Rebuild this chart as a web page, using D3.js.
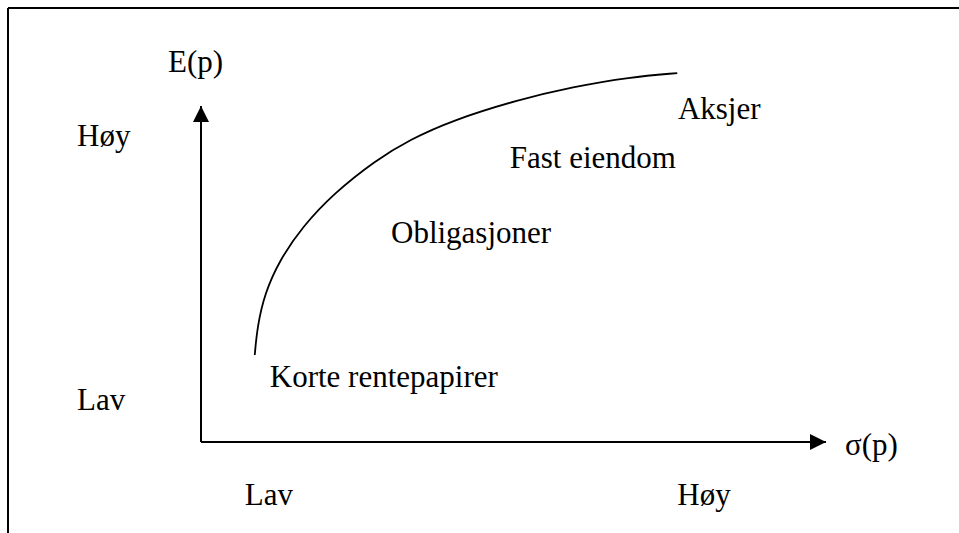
<!DOCTYPE html>
<html>
<head>
<meta charset="utf-8">
<script src="https://cdn.jsdelivr.net/npm/d3@7"></script>
<style>
  body { margin: 0; background: #fff; }
  text { font-family: "Liberation Serif", "DejaVu Serif", serif; font-size: 31px; fill: #000; }
</style>
</head>
<body>
<script>
// efficient frontier curve (sigma, expected return), axis units 0-100
var curveSigma = [8.6, 9.0, 10.2, 12.6, 16.2, 21.3, 28.0, 33.3, 40.3, 50.6, 59.5, 68.6, 76.2];
var curveReturn = [25.9, 34.2, 44.3, 54.2, 64.0, 74.1, 83.9, 89.9, 95.8, 101.8, 105.7, 108.6, 109.8];

// asset classes and where their labels sit
var assets = ['Korte rentepapirer', 'Obligasjoner', 'Fast eiendom', 'Aksjer'];
var assetSigma = [11.0, 30.4, 49.4, 76.3];
var assetReturn = [16.4, 59.2, 81.5, 96.1];

// tick labels
var yTicks = ['Lav', 'Høy'];
var yTickValues = [9.5, 88.1];
var xTicks = ['Lav', 'Høy'];
var xTickValues = [7.0, 76.2];

var w = 959;
var h = 533;

var svg = d3.select('body')
  .append('svg')
  .attr('width', w)
  .attr('height', h);

var xScale = d3.scaleLinear().domain([0, 100]).range([201, 826]);
var yScale = d3.scaleLinear().domain([0, 100]).range([442, 106]);

// frame (top and left edge only)
svg.append('line')
  .attr('x1', 8).attr('y1', 8).attr('x2', w).attr('y2', 8)
  .attr('stroke', '#000').attr('stroke-width', 2);
svg.append('line')
  .attr('x1', 8).attr('y1', 8).attr('x2', 8).attr('y2', h)
  .attr('stroke', '#000').attr('stroke-width', 2);

// arrow head
svg.append('defs').append('marker')
  .attr('id', 'arrow')
  .attr('viewBox', '0 0 16 16')
  .attr('refX', 16)
  .attr('refY', 8)
  .attr('markerWidth', 16)
  .attr('markerHeight', 16)
  .attr('markerUnits', 'userSpaceOnUse')
  .attr('orient', 'auto')
  .append('path')
  .attr('d', 'M0,0 L16,8 L0,16 Z')
  .attr('fill', '#000');

// axes
svg.append('line')
  .attr('x1', xScale(0)).attr('y1', yScale(0))
  .attr('x2', xScale(100)).attr('y2', yScale(0))
  .attr('stroke', '#000').attr('stroke-width', 2)
  .attr('marker-end', 'url(#arrow)');
svg.append('line')
  .attr('x1', xScale(0)).attr('y1', yScale(0))
  .attr('x2', xScale(0)).attr('y2', yScale(100))
  .attr('stroke', '#000').attr('stroke-width', 2)
  .attr('marker-end', 'url(#arrow)');

svg.append('text')
  .attr('x', xScale(0) - 33)
  .attr('y', yScale(100) - 34)
  .text('E(p)');
svg.append('text')
  .attr('x', xScale(100) + 19)
  .attr('y', yScale(0) + 13)
  .text('σ(p)');

// curve
var line = d3.line()
  .x(function (d, i) { return xScale(curveSigma[i]); })
  .y(function (d) { return yScale(d); })
  .curve(d3.curveBasis);

svg.append('path')
  .datum(curveReturn)
  .attr('d', line)
  .attr('fill', 'none')
  .attr('stroke', '#000')
  .attr('stroke-width', 1.8);

// asset labels
svg.selectAll('.asset')
  .data(assets)
  .enter()
  .append('text')
  .attr('class', 'asset')
  .attr('x', (d, i) => xScale(assetSigma[i]))
  .attr('y', (d, i) => yScale(assetReturn[i]))
  .text(d => d);

// tick labels
svg.selectAll('.ytick')
  .data(yTicks)
  .enter()
  .append('text')
  .attr('class', 'ytick')
  .attr('x', 77)
  .attr('y', (d, i) => yScale(yTickValues[i]))
  .text(d => d);

svg.selectAll('.xtick')
  .data(xTicks)
  .enter()
  .append('text')
  .attr('class', 'xtick')
  .attr('x', (d, i) => xScale(xTickValues[i]))
  .attr('y', 505)
  .text(d => d);
</script>
</body>
</html>
